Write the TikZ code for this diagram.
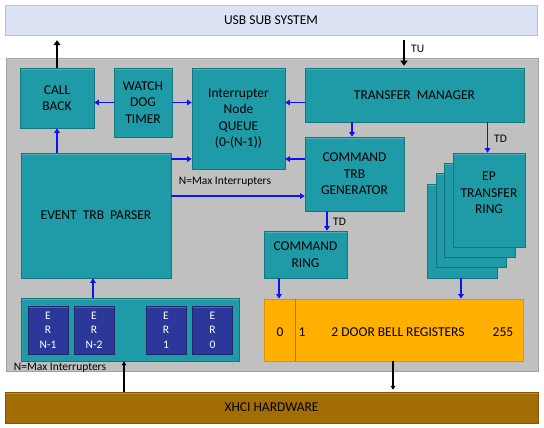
\documentclass[tikz,border=0pt]{standalone}
\usepackage{fontspec}
\setmainfont{Carlito}
\usetikzlibrary{arrows.meta,shadows,calc}
\definecolor{tealbox}{HTML}{1E9BA6}
\definecolor{graybg}{HTML}{C0C0C0}
\definecolor{usbblue}{HTML}{DAE2F3}
\definecolor{xhcibrown}{HTML}{A26D05}
\definecolor{dbell}{HTML}{FFB000}
\definecolor{erblue}{HTML}{2B3899}
\definecolor{arrowblue}{HTML}{0A14F0}
\begin{document}
\begin{tikzpicture}[x=1pt,y=-1pt,
  bevel/.style={path picture={\fill[white,opacity=0.22] (path picture bounding box.north west) rectangle ([yshift=-2pt]path picture bounding box.north east);}},
  tbox/.style={draw=tealbox!75!black, line width=0.6pt, fill=tealbox, align=center,
    font=\fontsize{13.5}{16.5}\selectfont, inner sep=1pt, bevel,
    drop shadow={shadow xshift=1pt,shadow yshift=-1.2pt,opacity=0.35}},
  erbox/.style={draw=erblue!70!black, line width=0.5pt, fill=erblue, align=center, text=white,
    font=\fontsize{11.5}{14.5}\selectfont, minimum width=40pt, minimum height=48pt, inner sep=0pt, bevel,
    drop shadow={shadow xshift=0.8pt,shadow yshift=-1pt,opacity=0.35}},
  bar/.style={inner sep=0pt, font=\fontsize{13.5}{16}\selectfont, bevel,
    drop shadow={shadow xshift=1pt,shadow yshift=-1.2pt,opacity=0.35}},
  lbl/.style={font=\fontsize{11.5}{13}\selectfont, inner sep=0pt},
  txt/.style={font=\fontsize{13.5}{16.5}\selectfont, inner sep=0pt, align=center},
  barrow/.style={draw=arrowblue, line width=1.4pt, -{Triangle[length=4.5pt,width=5.5pt]}},
  karrow/.style={draw=black, line width=2.2pt, -{Triangle[length=5pt,width=7pt]}},
  tarrow/.style={draw=black, line width=1.1pt, -{Triangle[length=4pt,width=4.5pt]}}]
\useasboundingbox (0,0) rectangle (544,428);

% background bars
\node[bar, draw=usbblue!85!black, fill=usbblue, minimum width=532pt, minimum height=30pt] (usb) at (271,20) {USB SUB SYSTEM};
\node[bar, draw=graybg!85!black, fill=graybg, minimum width=532pt, minimum height=313pt] (gray) at (272,214.5) {};
\node[bar, draw=xhcibrown!80!black, fill=xhcibrown, minimum width=533pt, minimum height=31pt] (xhci) at (271.5,407.5) {XHCI HARDWARE};

% main boxes
\node[tbox, minimum width=74pt, minimum height=60pt] (cb) at (57,98) {CALL\\BACK};
\node[tbox, minimum width=58pt, minimum height=69pt] (wd) at (143,102.5) {WATCH\\DOG\\TIMER};
\node[tbox, minimum width=93pt, minimum height=101pt] (queue) at (238.5,118.5) {Interrupter\\Node\\QUEUE\\(0-(N-1))};
\node[tbox, minimum width=219pt, minimum height=54pt] (tm) at (414.5,95) {TRANSFER\ \ MANAGER};
\node[tbox, minimum width=99pt, minimum height=74pt] (ctg) at (354.5,174) {COMMAND\\TRB\\GENERATOR};
\node[tbox, minimum width=83pt, minimum height=47pt] (cr) at (305.5,254.5) {COMMAND\\RING};
\node[tbox, minimum width=150pt, minimum height=125pt] (etp) at (96,215.5) {EVENT\ \ TRB\ \ PARSER};

% EP transfer ring stack
\node[tbox, minimum width=70pt, minimum height=94pt] (ep3) at (462,231) {};
\node[tbox, minimum width=70pt, minimum height=94pt] (ep2) at (471,220) {};
\node[tbox, minimum width=71pt, minimum height=94pt] (ep1) at (479.5,210) {};
\node[tbox, minimum width=72pt, minimum height=94pt] (ep) at (489,200) {};
\node[txt] (eptxt) at (489,193) {EP\\TRANSFER\\RING};

% event ring container
\node[tbox, minimum width=218pt, minimum height=63pt] (erc) at (130,329.5) {};
\node[erbox] (ern1) at (48,330) {E\\R\\N-1};
\node[erbox] (ern2) at (94,330) {E\\R\\N-2};
\node[erbox] (er1) at (166,330) {E\\R\\1};
\node[erbox] (er0) at (212.5,330) {E\\R\\0};

% door bell registers
\node[draw=dbell!85!black, line width=0.7pt, fill=dbell, minimum width=259pt, minimum height=62pt, inner sep=0pt] (db) at (393.5,330) {};
\coordinate (dbdiv) at (295,330);
\draw[dbell!70!black, line width=0.7pt] (db.north -| dbdiv) -- (db.south -| dbdiv);
\node[txt] (db0) at (280,332) {0};
\node[txt] (db1) at (302,332) {1};
\node[txt] (dbt) at (398,332) {2 DOOR BELL REGISTERS};
\node[txt] (db255) at (503,332) {255};

% labels
\node[lbl] (nmax1) at (225,182) {N=Max Interrupters};
\node[lbl] (nmax2) at (60,368) {N=Max Interrupters};

% black arrows
\draw[karrow, shorten >=5pt] (cb.north) -- (cb.north |- usb.south);
\coordinate (tux) at (404,0);
\draw[karrow, line width=1.8pt, shorten <=5pt, shorten >=2pt] (usb.south -| tux) -- (tm.north -| tux);
\node[lbl, anchor=west] (tu) at (411,49) {TU};
\coordinate (bx) at (393,0);
\draw[tarrow, shorten >=2pt] (db.south -| bx) -- (xhci.north -| bx);
\coordinate (ux) at (124,0);
\draw[tarrow] (xhci.north -| ux) -- (erc.south -| ux);

% blue arrows
\draw[barrow] (wd.west) -- (wd.west -| cb.east);
\draw[barrow] (wd.east) -- (wd.east -| queue.west);
\draw[barrow] (tm.west |- wd.east) -- (queue.east |- wd.east);
\coordinate (tmx) at (352,0);
\draw[barrow] (tm.south -| tmx) -- (ctg.north -| tmx);
\coordinate (tdx) at (487.5,0);
\draw[barrow] (tm.south -| tdx) -- (ep.north -| tdx);
\node[lbl, anchor=west] (td1) at (494,139) {TD};
\coordinate (y159) at (0,159);
\draw[barrow] (ctg.west |- y159) -- (queue.east |- y159);
\draw[barrow] (etp.east |- y159) -- (queue.west |- y159);
\coordinate (y196) at (0,196);
\draw[barrow] (etp.east |- y196) -- (ctg.west |- y196);
\draw[barrow] (cb.south |- etp.north) -- (cb.south);
\coordinate (ex) at (93,0);
\draw[barrow] (erc.north -| ex) -- (etp.south -| ex);
\coordinate (cx) at (327,0);
\draw[barrow] (ctg.south -| cx) -- (cr.north -| cx);
\node[lbl, anchor=west] (td2) at (333,222) {TD};
\coordinate (crx) at (279,0);
\draw[barrow] (cr.south -| crx) -- (db.north -| crx);
\coordinate (epx) at (461,0);
\draw[barrow] (ep3.south -| epx) -- (db.north -| epx);
\end{tikzpicture}
\end{document}
